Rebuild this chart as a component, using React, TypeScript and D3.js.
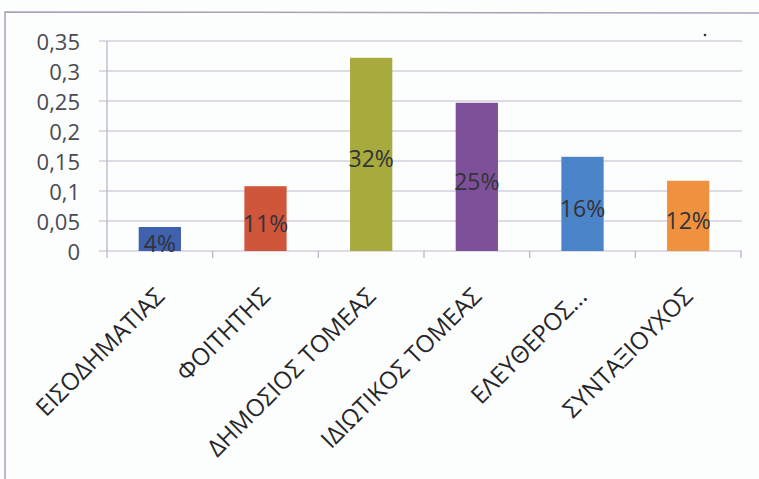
import React, { useEffect } from "react";
import * as d3 from "d3";

const categories = [
  "ΕΙΣΟΔΗΜΑΤΙΑΣ",
  "ΦΟΙΤΗΤΗΣ",
  "ΔΗΜΟΣΙΟΣ ΤΟΜΕΑΣ",
  "ΙΔΙΩΤΙΚΟΣ ΤΟΜΕΑΣ",
  "ΕΛΕΥΘΕΡΟΣ...",
  "ΣΥΝΤΑΞΙΟΥΧΟΣ",
];
const values = [0.04, 0.108, 0.322, 0.247, 0.157, 0.117];
const barColors = ["#4061ae", "#cf553b", "#a7aa3c", "#7e509a", "#4c84c9", "#f0913f"];
const yTicks = [0, 0.05, 0.1, 0.15, 0.2, 0.25, 0.3, 0.35];

const W = 759;
const H = 479;
const FONT = "'Open Sans', 'Noto Sans', sans-serif";

const locale = d3.formatLocale({ decimal: ",", thousands: ".", grouping: [3], currency: ["", "€"] });
const tickFmt = locale.format("~g");
const pctFmt = d3.format(".0%");

export default function App() {
  useEffect(() => {
    document.body.style.margin = "0";
  }, []);

  const x = d3.scaleBand<string>().domain(categories).range([107, 741]).paddingInner(0).paddingOuter(0);
  const y = d3.scaleLinear().domain([0, 0.35]).range([251, 41]);
  const bw = x.bandwidth() / 2.5;
  const y0 = y(0);

  return (
    <svg width={W} height={H} style={{ display: "block" }} fontFamily={FONT}>
      <rect x={0} y={0} width={W} height={H} fill="#fcfdfd" />
      {/* outer frame */}
      <path d={`M5,${H} L5,12 L${W},13`} fill="none" stroke="#aaa2ba" strokeWidth={1.5} />
      {/* speck */}
      <circle cx={705} cy={35} r={1.3} fill="#333" />
      {/* gridlines */}
      {yTicks.map((t) => (
        <line key={t} x1={99} x2={742} y1={y(t)} y2={y(t)} stroke="#c2b9cf" strokeWidth={1.2} />
      ))}
      {/* y axis line */}
      <line x1={107} x2={107} y1={y(0.35)} y2={y0 + 7} stroke="#b8b0c6" strokeWidth={1.2} />
      {/* category ticks */}
      {categories.map((c) => (
        <line key={c} x1={(x(c) as number) + x.bandwidth()} x2={(x(c) as number) + x.bandwidth()} y1={y0} y2={y0 + 7} stroke="#b8b0c6" strokeWidth={1.2} />
      ))}
      {/* y tick labels */}
      {yTicks.map((t) => (
        <text key={t} x={80} y={y(t)} textAnchor="end" dominantBaseline="central" fontSize={22} fontWeight={500} fill="#4a4a52">
          {tickFmt(t)}
        </text>
      ))}
      {/* bars */}
      {categories.map((c, i) => {
        const cx = (x(c) as number) + x.bandwidth() / 2;
        return (
          <rect key={c} x={cx - bw / 2} y={y(values[i])} width={bw} height={y0 - y(values[i])} fill={barColors[i]} />
        );
      })}
      {/* data labels */}
      {categories.map((c, i) => {
        const cx = (x(c) as number) + x.bandwidth() / 2;
        const cy = (y(values[i]) + y0) / 2 + 4;
        return (
          <text key={c} x={cx} y={cy} textAnchor="middle" dominantBaseline="central" fontSize={23} fontWeight={500} fill="#333338">
            {pctFmt(values[i])}
          </text>
        );
      })}
      {/* category labels */}
      {categories.map((c) => {
        const ax = (x(c) as number) + x.bandwidth() / 2 + 6;
        const ay = 298;
        return (
          <text key={c} x={ax} y={ay} textAnchor="end" fontSize={24} fontWeight={500} fill="#26262a" transform={`rotate(-45 ${ax} ${ay})`}>
            {c}
          </text>
        );
      })}
    </svg>
  );
}
